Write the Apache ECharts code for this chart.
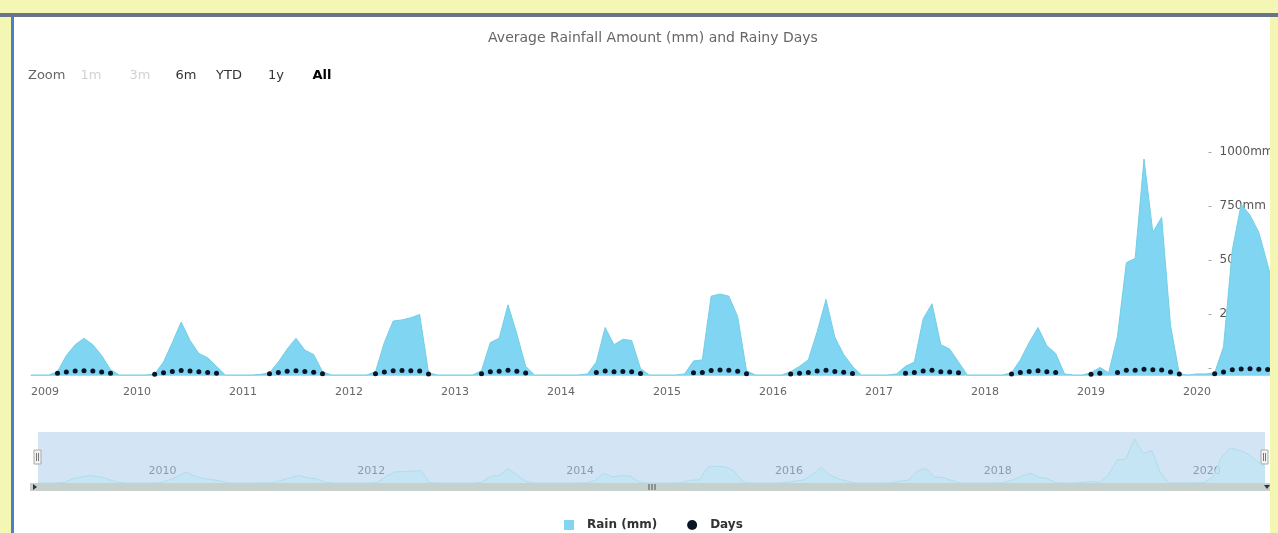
<!DOCTYPE html>
<html><head><meta charset="utf-8">
<script src="https://cdn.jsdelivr.net/npm/echarts@6/dist/echarts.min.js"></script>
<style>
html,body{margin:0;padding:0;width:1278px;height:533px;overflow:hidden;background:#f4f6b4;}
#topline{position:absolute;left:0;top:13px;width:1278px;height:4px;background:#68748a;}
#frame{position:absolute;left:11px;top:17px;width:1259px;height:516px;overflow:hidden;background:#fff;border-left:3px solid #4d7fc4;box-sizing:border-box;}
#chart{position:absolute;left:0;top:0;width:1300px;height:516px;}
</style></head>
<body>
<div id="topline"></div>
<div id="frame"><div id="chart"></div></div>
<script>
// ---- data (monthly, Jan..Dec) ----
const years = [2009,2010,2011,2012,2013,2014,2015,2016,2017,2018,2019,2020];
const rain2009 = [0,0,0,15,90,140,170,140,90,25,0,0];
const rain2010 = [0,0,5,60,150,245,160,100,80,40,0,0];
const rain2011 = [0,0,3,10,60,120,170,115,95,15,0,0];
const rain2012 = [0,0,0,15,150,250,255,265,280,10,0,0];
const rain2013 = [0,0,0,20,150,170,325,190,40,0,0,0];
const rain2014 = [0,0,0,5,60,220,140,165,160,30,0,0];
const rain2015 = [0,0,5,65,70,365,375,365,270,20,0,0];
const rain2016 = [0,0,15,40,70,200,350,175,95,40,0,0];
const rain2017 = [0,0,5,40,60,260,330,140,120,60,0,0];
const rain2018 = [0,0,0,10,70,150,220,135,100,5,0,0];
const rain2019 = [10,35,10,180,520,540,1000,660,730,230,5,0];
const rain2020 = [5,5,10,130,580,790,740,660,510,350];
const days2009 = [null,null,null,8,14,18,20,18,14,8,null,null];
const days2010 = [null,null,4,10,16,21,18,15,12,8,null,null];
const days2011 = [null,null,null,6,12,17,20,16,13,6,null,null];
const days2012 = [null,null,null,6,14,20,21,20,18,5,null,null];
const days2013 = [null,null,null,6,15,17,22,17,9,null,null,null];
const days2014 = [null,null,null,null,12,19,15,16,15,7,null,null];
const days2015 = [null,null,null,10,11,21,23,22,17,6,null,null];
const days2016 = [null,null,5,8,12,18,22,16,13,7,null,null];
const days2017 = [null,null,null,8,11,18,22,15,14,10,null,null];
const days2018 = [null,null,null,5,12,16,20,15,12,null,null,null];
const days2019 = [4,8,null,12,22,22,27,24,23,14,5,null];
const days2020 = [null,null,6,14,24,28,29,27,25,22];
const yTicks = [0,250,500,750,1000];
const rangeButtons = ['1m','3m','6m','YTD','1y','All'];

const rainByYear = [rain2009,rain2010,rain2011,rain2012,rain2013,rain2014,rain2015,rain2016,rain2017,rain2018,rain2019,rain2020];
const daysByYear = [days2009,days2010,days2011,days2012,days2013,days2014,days2015,days2016,days2017,days2018,days2019,days2020];
const months = [], rain = [], days = [];
years.forEach((y,i)=>{
  rainByYear[i].forEach((v,m)=>{
    months.push(y+'-'+String(m+1).padStart(2,'0'));
    rain.push(v);
    const d = daysByYear[i][m];
    days.push(d==null?'-':d);
  });
});

const FONT = 'DejaVu Sans';
const chart = echarts.init(document.getElementById('chart'), null, {renderer:'canvas'});

const btnX = [77,126,172,215,262,308];
const btnColor = ['#d2d2d2','#d2d2d2','#333','#333','#333','#000'];
const graphics = [
  {type:'text', x:14, y:59, style:{text:'Zoom', fill:'#666', font:'13px "DejaVu Sans"', verticalAlign:'middle', align:'left'}}
];
rangeButtons.forEach((b,i)=>{
  graphics.push({type:'text', x:btnX[i], y:59, style:{text:b, fill:btnColor[i], font:(b==='All'?'bold ':'')+'13px "DejaVu Sans"', align:'center', verticalAlign:'middle'}});
});
// scrollbar
graphics.push({type:'rect', shape:{x:16,y:466,width:1246,height:8}, style:{fill:'#c6d0cd'}});
graphics.push({type:'polygon', shape:{points:[[19,467],[23,470],[19,473]]}, style:{fill:'#333'}});
graphics.push({type:'polygon', shape:{points:[[1250,468],[1256,468],[1253,472]]}, style:{fill:'#333'}});
[635,638,641].forEach(x=>graphics.push({type:'line', shape:{x1:x,y1:467,x2:x,y2:473}, style:{stroke:'#555',lineWidth:1}}));
// navigator handles
[24,1251].forEach(x=>{
  graphics.push({type:'rect', shape:{x:x-4,y:433,width:7,height:14}, style:{fill:'#f2f2f2',stroke:'#aaa',lineWidth:1}});
  graphics.push({type:'line', shape:{x1:x-1.5,y1:436,x2:x-1.5,y2:444}, style:{stroke:'#777'}});
  graphics.push({type:'line', shape:{x1:x+0.5,y1:436,x2:x+0.5,y2:444}, style:{stroke:'#777'}});
});

const option = {
  animation:false,
  backgroundColor:'#fff',
  title:{text:'Average Rainfall Amount (mm) and Rainy Days', left:639, top:14, textAlign:'center', padding:0,
    textStyle:{fontFamily:FONT, fontSize:14, fontWeight:'normal', color:'#666'}},
  legend:{
    data:[{name:'Rain (mm)', icon:'rect'},{name:'Days', icon:'circle'}],
    left:545, top:497, itemWidth:10, itemHeight:10, itemGap:30,
    textStyle:{fontFamily:FONT, fontWeight:'bold', fontSize:12, color:'#333', padding:[0,0,0,8]}
  },
  grid:[
    {left:17, top:142, width:1245.5, height:216},
    {left:24, top:415, width:1227, height:51, show:true, backgroundColor:'#d3e4f4', borderWidth:0}
  ],
  xAxis:[
    {type:'category', gridIndex:0, data:months, boundaryGap:false,
     axisLine:{lineStyle:{color:'#c3d3cc'}}, axisTick:{show:false}, splitLine:{show:false},
     axisLabel:{interval:(i,v)=>v.endsWith('-01'), formatter:v=>v.slice(0,4), alignMinLabel:'left',
       margin:12, color:'#666', fontSize:11, fontFamily:FONT}},
    {type:'category', gridIndex:1, data:months, boundaryGap:false,
     axisLine:{show:false}, axisTick:{show:false}, splitLine:{show:false},
     axisLabel:{inside:true, interval:(i,v)=>v.endsWith('-01') && (+v.slice(0,4))%2===0,
       formatter:v=>v.slice(0,4), align:'left', padding:[0,0,0,6], margin:6, color:'#8a9cb0', fontSize:11, fontFamily:FONT}}
  ],
  yAxis:[
    {type:'value', gridIndex:0, position:'right', offset:-72.5, min:0, max:1000, interval:250,
     splitLine:{show:false}, axisLine:{show:false}, axisTick:{show:false},
     axisLabel:{margin:4, verticalAlign:'bottom', lineHeight:14, color:'#555', fontSize:12, fontFamily:FONT,
       formatter:v=>'{d|-}  '+v+'mm', rich:{d:{color:'#999', fontSize:11}}}},
    {type:'value', gridIndex:1, min:0, max:1150, show:false, splitLine:{show:false}}
  ],
  series:[
    {name:'Rain (mm)', type:'line', xAxisIndex:0, yAxisIndex:0, data:rain, symbol:'none', clip:false,
     lineStyle:{color:'#74cfe3', width:1}, areaStyle:{color:'#7fd5f2', opacity:1}, itemStyle:{color:'#7fd5f2'}, z:2},
    {name:'Days', type:'scatter', xAxisIndex:0, yAxisIndex:0, data:days, symbolSize:5,
     itemStyle:{color:'#0a1424', opacity:1}, z:3},
    {name:'nav', type:'line', xAxisIndex:1, yAxisIndex:1, data:rain, symbol:'none',
     lineStyle:{color:'#b0dcee', width:1}, areaStyle:{color:'#bfe6f4', opacity:0.7}, silent:true}
  ],
  graphic:graphics
};
chart.setOption(option);
</script>
</body></html>
